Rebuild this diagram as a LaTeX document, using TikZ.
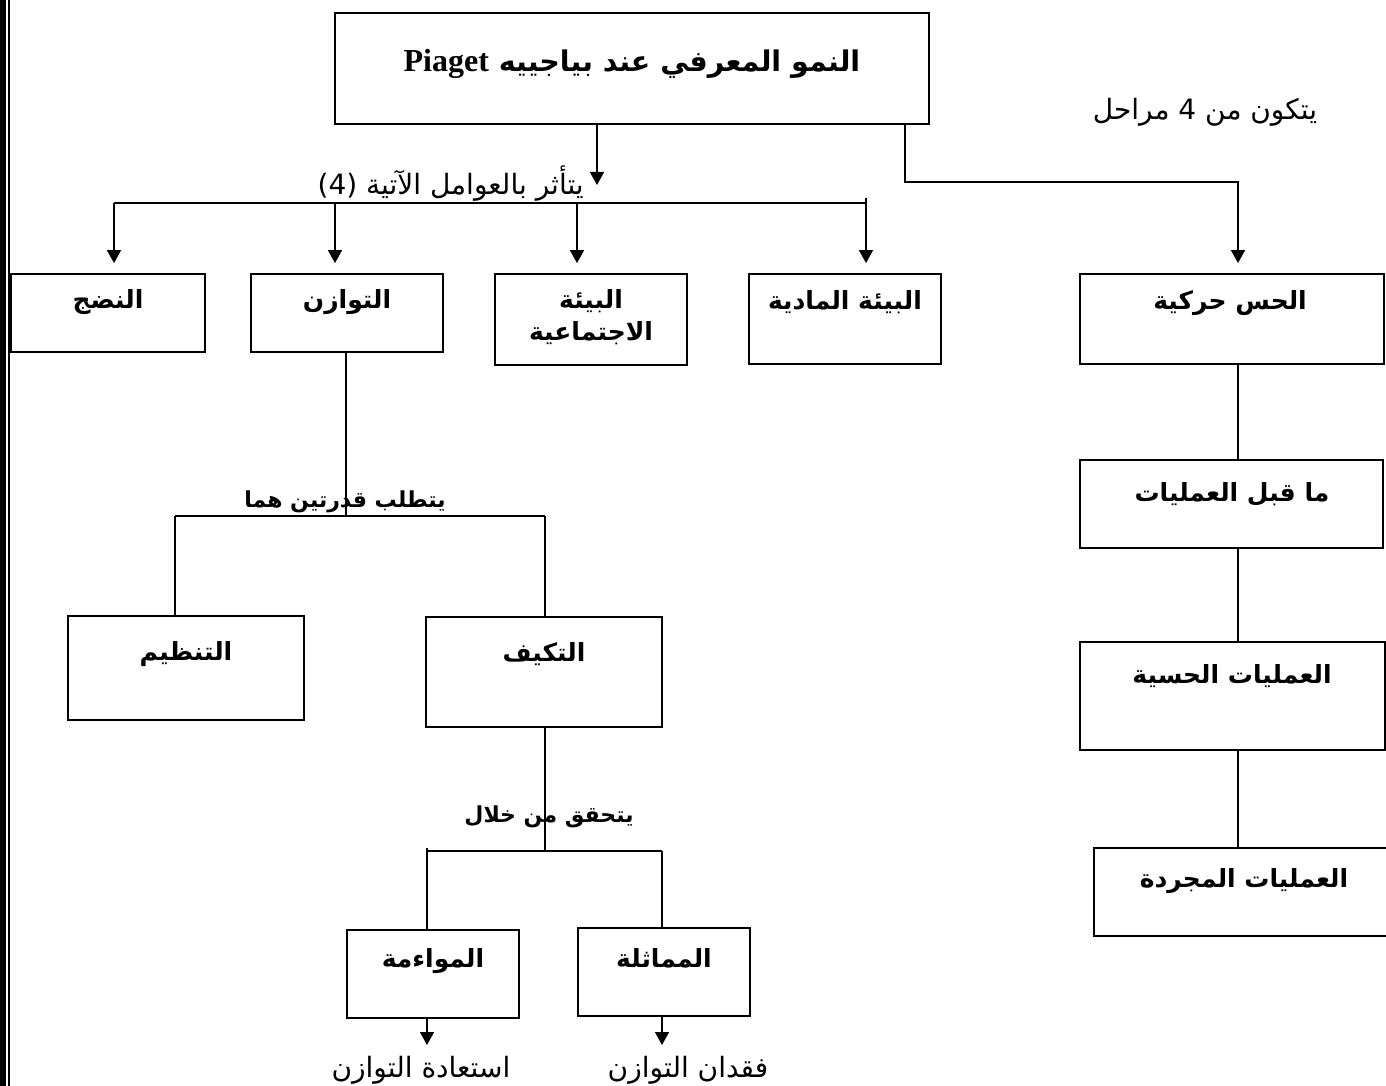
\documentclass[tikz,border=0pt]{standalone}
\usepackage{fontspec}
\usetikzlibrary{arrows.meta}
\TeXXeTstate=1
\newfontfamily\arfont[Script=Arabic]{DejaVu Sans}
\newfontfamily\latfont{Liberation Serif}
\newcommand{\artxt}[1]{\beginR #1\endR}

\begin{document}
\begin{tikzpicture}[x=1pt,y=-1pt,
  box/.style={draw, line width=1.8pt, inner sep=0pt},
  conn/.style={line width=1.5pt},
  arr/.style={conn, -{Triangle[width=14pt,length=13pt]}},
  blab/.style={font=\arfont\bfseries\fontsize{25}{32}\selectfont, inner sep=0pt, align=center},
  clab/.style={font=\arfont\bfseries\fontsize{22}{28}\selectfont, inner sep=0pt},
  rlab/.style={font=\arfont\fontsize{28}{32}\selectfont, inner sep=0pt},
  tlab/.style={font=\arfont\bfseries\fontsize{28.5}{34}\selectfont, inner sep=0pt}]

\useasboundingbox (0,0) rectangle (1386,1086);
\fill[white] (0,0) rectangle (1386,1086);
\clip (0,0) rectangle (1386,1086);

% page border on the left
\fill[black] (0,0) rectangle (5.7,1086);
\fill[black] (8,0) rectangle (10,1086);

% boxes
\node[box, minimum width=594pt, minimum height=111pt] (top) at (632,68.5) {};
\node[box, minimum width=194pt, minimum height=78pt] (nadj) at (108,313) {};
\node[box, minimum width=192pt, minimum height=78pt] (tawazun) at (347,313) {};
\node[box, minimum width=192pt, minimum height=91pt] (ijtima) at (591,319.5) {};
\node[box, minimum width=192pt, minimum height=90pt] (madiya) at (845,319) {};
\node[box, minimum width=304pt, minimum height=90pt] (hiss) at (1232,319) {};
\node[box, minimum width=303pt, minimum height=88pt] (qabl) at (1231.5,504) {};
\node[box, minimum width=305pt, minimum height=108pt] (hissiya) at (1232.5,696) {};
\node[box, minimum width=306pt, minimum height=88pt] (mujarrada) at (1247,892) {};
\node[box, minimum width=236pt, minimum height=104pt] (tanzim) at (186,668) {};
\node[box, minimum width=236pt, minimum height=110pt] (takayyuf) at (544,672) {};
\node[box, minimum width=172pt, minimum height=88pt] (muwaama) at (433,974) {};
\node[box, minimum width=172pt, minimum height=88pt] (mumathala) at (664,972) {};

% box texts
\node[tlab] (t-top) at (632,64) {\beginR النمو المعرفي عند بياجييه \beginL{\latfont\bfseries\fontsize{32}{34}\selectfont Piaget}\endL\endR};
\node[blab] (t-nadj) at (108,302) {\artxt{النضج}};
\node[blab] (t-tawazun) at (347,302) {\artxt{التوازن}};
\node[blab] (t-ijtima) at (591,317) {\artxt{البيئة}\\\artxt{الاجتماعية}};
\node[blab] (t-madiya) at (845,302) {\artxt{البيئة المادية}};
\node[blab] (t-hiss) at (1230,303) {\artxt{الحس حركية}};
\node[blab] (t-qabl) at (1232,494) {\artxt{ما قبل العمليات}};
\node[blab] (t-hissiya) at (1232,676) {\artxt{العمليات الحسية}};
\node[blab] (t-mujarrada) at (1244,881) {\artxt{العمليات المجردة}};
\node[blab] (t-tanzim) at (186,654) {\artxt{التنظيم}};
\node[blab] (t-takayyuf) at (544,654) {\artxt{التكيف}};
\node[blab] (t-muwaama) at (433,961) {\artxt{المواءمة}};
\node[blab] (t-mumathala) at (664,958) {\artxt{المماثلة}};

% junction points of the connectors
\coordinate (j0) at (597,185);
\coordinate (b1) at (114,203);
\coordinate (b2) at (335,203);
\coordinate (b3) at (577,203);
\coordinate (b4) at (866,203);
\coordinate (b4t) at (866,198);
\coordinate (s1) at (905,182);
\coordinate (s2) at (1238,182);
\coordinate (q0) at (346,516);
\coordinate (q1) at (175,516);
\coordinate (q2) at (545,516);
\coordinate (r0) at (545,851);
\coordinate (r1) at (427,851);
\coordinate (r1t) at (427,848);
\coordinate (r2) at (662,851);
\coordinate (o1) at (427,1045);
\coordinate (o2) at (662,1045);

% four factors
\draw[arr] (top.south -| j0) -- (j0);
\draw[conn] (b1) -- (b4);
\draw[arr, shorten >=10pt] (b1) -- (nadj.north -| b1);
\draw[arr, shorten >=10pt] (b2) -- (tawazun.north -| b2);
\draw[arr, shorten >=10pt] (b3) -- (ijtima.north -| b3);
\draw[arr, shorten >=10pt] (b4t) -- (madiya.north -| b4t);

% four stages
\draw[arr, shorten >=10pt] (top.south -| s1) -- (s1) -- (s2) -- (hiss.north -| s2);
\draw[conn] (hiss.south -| s2) -- (qabl.north -| s2);
\draw[conn] (qabl.south -| s2) -- (hissiya.north -| s2);
\draw[conn] (hissiya.south -| s2) -- (mujarrada.north -| s2);

% equilibrium branch
\draw[conn] (tawazun.south -| q0) -- (q0);
\draw[conn] (q1) -- (q2);
\draw[conn] (q1) -- (tanzim.north -| q1);
\draw[conn] (q2) -- (takayyuf.north -| q2);
\draw[conn] (takayyuf.south -| r0) -- (r0);
\draw[conn] (r1t) -- (r1) -- (r2);
\draw[conn] (r1) -- (muwaama.north -| r1);
\draw[conn] (r2) -- (mumathala.north -| r2);
\draw[arr] (muwaama.south -| o1) -- (o1);
\draw[arr] (mumathala.south -| o2) -- (o2);

% connector labels
\node[rlab, anchor=east] (l-factors) at (584,184) {\beginR يتأثر بالعوامل الآتية \beginL(4)\endL\endR};
\node[rlab] (l-stages) at (1205,112) {\artxt{يتكون من 4 مراحل}};
\node[clab] (l-requires) at (345,502) {\artxt{يتطلب قدرتين هما}};
\node[clab] (l-through) at (549,817) {\artxt{يتحقق من خلال}};
\node[rlab] (l-restore) at (421,1070) {\artxt{استعادة التوازن}};
\node[rlab] (l-loss) at (688,1070) {\artxt{فقدان التوازن}};
\end{tikzpicture}
\end{document}
